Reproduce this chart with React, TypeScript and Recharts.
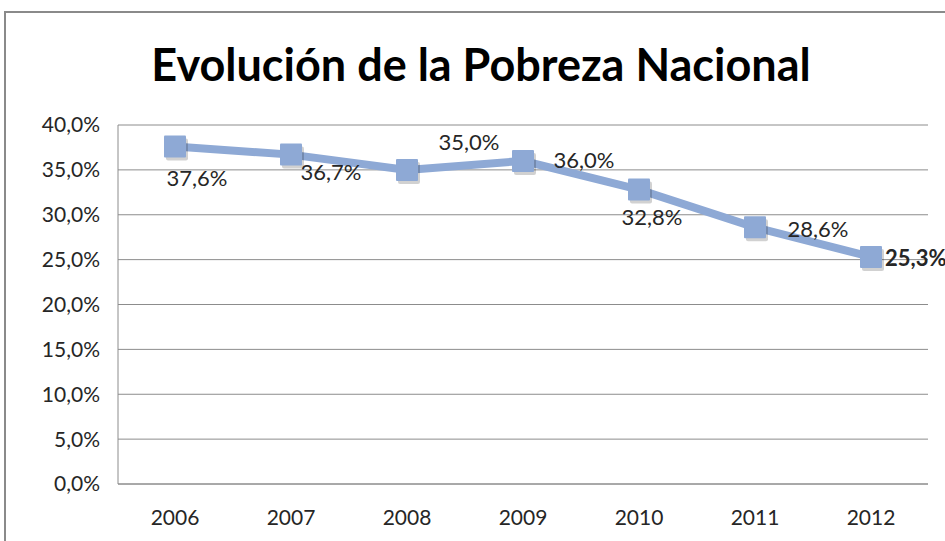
import React from 'react';
import { LineChart, Line, XAxis, YAxis, CartesianGrid } from 'recharts';

const years = ['2006', '2007', '2008', '2009', '2010', '2011', '2012'];
const poverty = [37.6, 36.7, 35.0, 36.0, 32.8, 28.6, 25.3];
const yTicks = [0, 5, 10, 15, 20, 25, 30, 35, 40];
const labelValues = [37.6, 36.7, 35.0, 36.0, 32.8, 28.6, 25.3];
const labelBold = [false, false, false, false, false, false, true];

// label offsets relative to marker centre (layout only)
const labelOffsets = [
  { dx: 22, dy: 31, anchor: 'middle' },
  { dx: 40, dy: 17, anchor: 'middle' },
  { dx: 62, dy: -28, anchor: 'middle' },
  { dx: 61, dy: -1, anchor: 'middle' },
  { dx: 13, dy: 27, anchor: 'middle' },
  { dx: 63, dy: 1, anchor: 'middle' },
  { dx: 14, dy: 1, anchor: 'start' },
];

const data = years.map((y, i) => ({ year: y, value: poverty[i], label: labelValues[i] }));

const fmt = (v: number) => v.toFixed(1).replace('.', ',') + '%';

const FONT = 'Lato, "Open Sans", sans-serif';
const LINE_COLOR = '#8EA9D5';

const SquareDot = (props: any) => {
  const { cx, cy, index } = props;
  if (cx == null || cy == null) return null;
  const s = 22;
  return (
    <g key={`dot-${index}`}>
      <rect x={cx - s / 2 + 2} y={cy - s / 2 + 3} width={s} height={s} fill="#000" opacity={0.18} rx={2} />
      <rect x={cx - s / 2} y={cy - s / 2} width={s} height={s} fill={LINE_COLOR} rx={1} />
    </g>
  );
};

const DataLabel = (props: any) => {
  const { x, y, index } = props;
  if (x == null || y == null) return null;
  const o = labelOffsets[index];
  return (
    <text
      key={`lbl-${index}`}
      x={x + o.dx}
      y={y + o.dy}
      textAnchor={o.anchor}
      dominantBaseline="central"
      fontFamily={FONT}
      fontSize={22}
      fontWeight={labelBold[index] ? 700 : 400}
      fill="#262626"
    >
      {fmt(labelValues[index])}
    </text>
  );
};

export default function App() {
  return (
    <div style={{ position: 'absolute', left: 0, top: 0, width: 945, height: 541, background: '#fff', overflow: 'hidden' }}>
      <div
        style={{
          position: 'absolute',
          left: 4,
          top: 11,
          width: 1000,
          height: 600,
          border: '2px solid #8a8a8a',
          boxSizing: 'border-box',
        }}
      />
      <div
        style={{
          position: 'absolute',
          left: 0,
          top: 35,
          width: 962,
          textAlign: 'center',
          fontFamily: FONT,
          fontWeight: 700,
          fontSize: 45,
          color: '#000',
          lineHeight: '58px',
        }}
      >
        Evolución de la Pobreza Nacional
      </div>
      <div style={{ position: 'absolute', left: 0, top: 0 }}>
        <LineChart width={945} height={541} data={data} margin={{ top: 125, right: 17, bottom: 27, left: 8 }}>
          <CartesianGrid vertical={false} stroke="#8c8c8c" strokeWidth={1} />
          <XAxis
            dataKey="year"
            height={30}
            padding={{ left: 57, right: 57 }}
            axisLine={{ stroke: '#8c8c8c' }}
            tickLine={false}
            tickMargin={20}
            tick={{ fontFamily: FONT, fontSize: 21, fill: '#262626' }}
            interval={0}
          />
          <YAxis
            width={110}
            domain={[0, 40]}
            ticks={yTicks}
            tickFormatter={fmt}
            axisLine={{ stroke: '#8c8c8c' }}
            tickLine={false}
            tickMargin={12}
            tick={{ fontFamily: FONT, fontSize: 21, fill: '#262626' }}
            interval={0}
          />
          <Line
            type="linear"
            dataKey="value"
            stroke={LINE_COLOR}
            strokeWidth={8}
            dot={<SquareDot />}
            activeDot={false}
            label={<DataLabel />}
            isAnimationActive={false}
          />
        </LineChart>
      </div>
    </div>
  );
}
